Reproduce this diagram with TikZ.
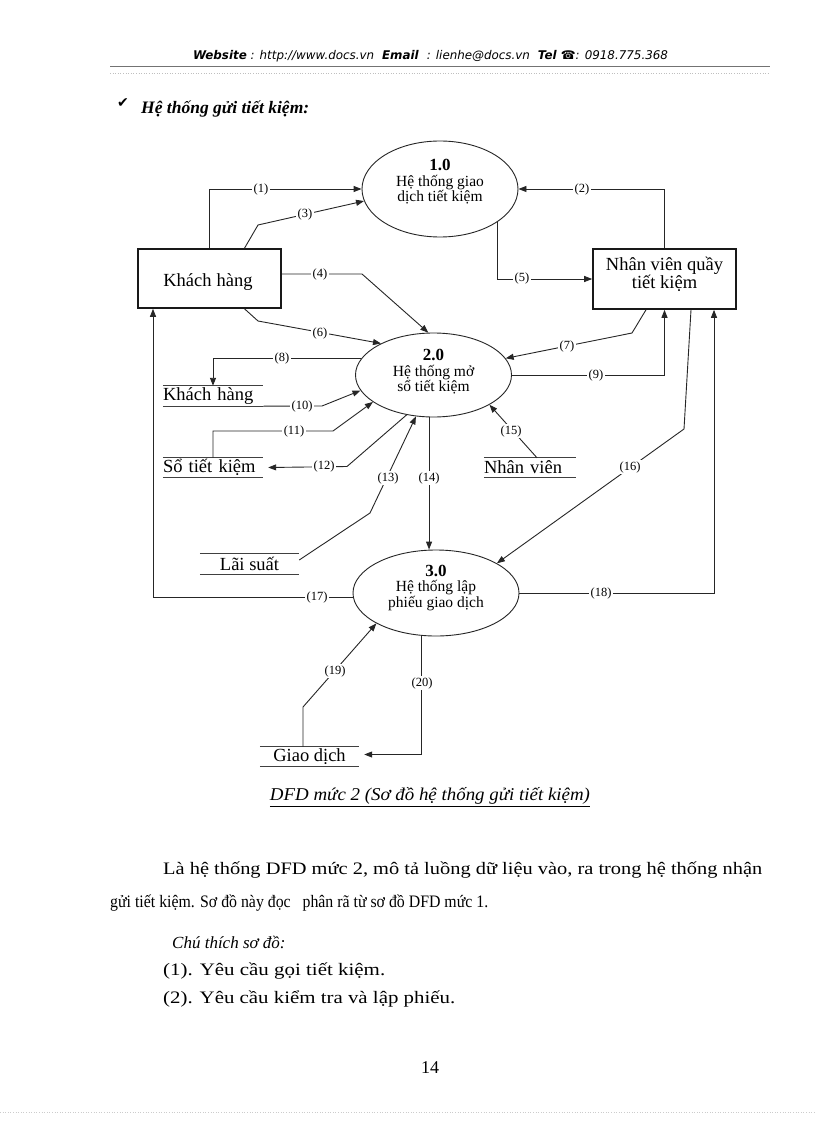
\documentclass[tikz,border=0pt]{standalone}
\usepackage{fontspec}
\setmainfont{Liberation Serif}
\newfontfamily\hdrfont{DejaVu Sans}
\newfontfamily\symfont{DejaVu Sans}
\usetikzlibrary{arrows.meta,calc,shapes.geometric}
\begin{document}
\begin{tikzpicture}[x=1pt,y=-1pt,
  flow/.style={line width=0.9pt, draw=black!85},
  arr/.style={flow,-{Triangle[length=8pt,width=6pt]}},
  lbl/.style={fill=white, inner sep=1.5pt, font=\fontsize{12.5}{13}\selectfont},
  proc/.style={ellipse, draw=black!85, line width=0.9pt, inner sep=0pt},
  ent/.style={draw=black!90, line width=1.6pt, inner sep=0pt},
  storetxt/.style={inner sep=0pt, font=\fontsize{18.5}{19}\selectfont},
  storeline/.style={line width=1.3pt, draw=black!75},
  ptxt/.style={align=center, inner sep=0pt, font=\fontsize{15.5}{15.5}\selectfont},
  btxt/.style={align=center, inner sep=0pt, font=\fontsize{18.5}{17.5}\selectfont},
  body/.style={inner sep=0pt, anchor=west, font=\fontsize{17.5}{18}\selectfont},
]
\useasboundingbox (0,0) rectangle (816,1123);
\fill[white] (0,0) rectangle (816,1123);

% header
\node[inner sep=0pt] (hdr) at (430.5,56) {\resizebox{475pt}{\height}{\hdrfont\fontsize{12}{13}\selectfont\textbf{\textit{Website}}\textit{ : http://www.docs.vn }\textbf{\textit{ Email }}\textit{ : lienhe@docs.vn }\textbf{\textit{ Tel }}\textbf{☎}\textit{: 0918.775.368}}};
\draw[black!55, line width=0.8pt] (110,66) -- (770,66);
\draw[black!25, line width=0.6pt, dotted] (110,73) -- (770,73);

% title
\node[inner sep=0pt] (chk) at (123,103) {\symfont\fontsize{14}{14}\selectfont ✔};
\node[inner sep=0pt, anchor=west] (ttl) at (141,109) {\fontsize{17.5}{19}\selectfont\bfseries\itshape Hệ thống gửi tiết kiệm:};

% processes
\node[proc, minimum width=156pt, minimum height=96pt] (e1) at (440,189) {};
\node[proc, minimum width=156pt, minimum height=84pt] (e2) at (433.5,375) {};
\node[proc, minimum width=166pt, minimum height=86pt] (e3) at (436,593) {};
\node[ptxt] (e1t) at (440,182) {\textbf{\fontsize{17}{15.5}\selectfont 1.0}\\Hệ thống giao\\dịch tiết kiệm};
\node[ptxt] (e2t) at (433.5,372) {\textbf{\fontsize{17}{15.5}\selectfont 2.0}\\Hệ thống mở\\sổ tiết kiệm};
\node[ptxt] (e3t) at (436,588) {\textbf{\fontsize{17}{15.5}\selectfont 3.0}\\Hệ thống lập\\phiếu giao dịch};

% entities
\node[ent, minimum width=143pt, minimum height=59pt] (kh) at (209.5,278.5) {};
\node[btxt] (kht) at (208,282) {Khách\hspace{5pt}hàng};
\node[ent, minimum width=143pt, minimum height=60pt] (nv) at (664.5,279) {};
\node[btxt] (nvt) at (664.5,274.5) {Nhân viên quầy\\tiết kiệm};

% data stores
\node[storetxt, text width=100pt, align=left, minimum height=20pt] (ks) at (213,396) {Khách hàng};
\node[storetxt, text width=100pt, align=left, minimum height=19pt] (st) at (213,467.5) {Sổ tiết kiệm};
\node[storetxt, text width=92pt, align=left, minimum height=19pt] (nvs) at (530,467.5) {Nhân viên};
\node[storetxt, minimum width=99pt, minimum height=20pt] (ls) at (249.5,564) {Lãi suất};
\node[storetxt, minimum width=99pt, minimum height=19pt] (gd) at (309.5,756.5) {Giao dịch};
\foreach \s in {ks,st,nvs,ls,gd}{
  \draw[storeline] (\s.north west) -- (\s.north east);
  \draw[storeline] (\s.south west) -- (\s.south east);
}

% flows
\draw[arr] (kh.north) |- (e1.west);
\draw[arr] ([xshift=35pt]kh.north) -- (258,225) -- (e1.189);
\draw[arr] (nv.north) |- (e1.east);
\draw[arr] (e1.330) |- (nv.west);
\draw[arr] ([yshift=4.5pt]kh.east) -- (362,274) -- (e2.97);
\draw[arr] ([xshift=35pt]kh.south) -- (258,321) -- (e2.149);
\draw[arr] ([xshift=-18.5pt]nv.south) -- (632,333) -- (e2.13);
\draw[arr] (e2.167) -| (ks.north);
\draw[arr] (e2.east) -| (nv.south);
\draw[arr] (ks.south east) -- (322,406) -- (e2.192);
\draw[arr] (st.north) |- (333,431) -- (e2.204);
\draw[arr] (e2.236) -- (347,466.5) -- ([xshift=5pt]st.east);
\draw[arr] ([yshift=4pt]ls.east) -- (370,513) -- (e2.247);
\draw[arr] (e2.264) -- (e2.264 |- e3.north);
\draw[arr] ([xshift=7pt]nvs.north) -- (e2.332);
\draw[arr] ([xshift=26.5pt]nv.south) -- (684,429) -- (e3.26);
\draw[arr] (e3.183) -| ([xshift=-56.5pt]kh.south);
\draw[arr] (e3.east) -| ([xshift=49.5pt]nv.south);
\draw[arr] ([xshift=-6.5pt]gd.north) -- (303,707) -- (e3.207);
\draw[arr] (e3.251) |- ($(gd.east)+(5,-2)$);

% flow labels
\node[lbl] (l1) at (261,189) {(1)};
\node[lbl] (l2) at (582,189) {(2)};
\node[lbl] (l3) at (305,214) {(3)};
\node[lbl] (l4) at (320,274) {(4)};
\node[lbl] (l5) at (522,278) {(5)};
\node[lbl] (l6) at (320,333) {(6)};
\node[lbl] (l7) at (567,346) {(7)};
\node[lbl] (l8) at (282,358) {(8)};
\node[lbl] (l9) at (596,375) {(9)};
\node[lbl] (l10) at (302,406) {(10)};
\node[lbl] (l11) at (294,431) {(11)};
\node[lbl] (l12) at (324,466.5) {(12)};
\node[lbl] (l13) at (388,478) {(13)};
\node[lbl] (l14) at (429,478) {(14)};
\node[lbl] (l15) at (511,431) {(15)};
\node[lbl] (l16) at (630,467) {(16)};
\node[lbl] (l17) at (317,597) {(17)};
\node[lbl] (l18) at (601,593) {(18)};
\node[lbl] (l19) at (335,671) {(19)};
\node[lbl] (l20) at (422,683) {(20)};

% caption
\node[inner sep=0pt] (cap) at (430,797) {\resizebox{320pt}{\height}{\fontsize{18}{18}\selectfont\itshape\underline{DFD mức 2 (Sơ đồ hệ thống gửi tiết kiệm)}}};

% body text
\node[body] (p1) at (163,870) {\resizebox{599pt}{\height}{Là hệ thống DFD mức 2, mô tả luồng dữ liệu vào, ra trong hệ thống nhận}};
\node[body, font=\fontsize{17.5}{18}\selectfont] (p2) at (110,903) {\resizebox{378pt}{\height}{gửi tiết kiệm. Sơ đồ này đọc\ \ \ phân rã từ sơ đồ DFD mức 1.}};
\node[body, font=\fontsize{17}{18}\selectfont] (p3) at (172,942) {\itshape Chú thích sơ đồ:};
\node[body] (p4) at (163,971) {\resizebox{222pt}{\height}{(1). Yêu cầu gọi tiết kiệm.}};
\node[body] (p5) at (163,999) {\resizebox{292pt}{\height}{(2). Yêu cầu kiểm tra và lập phiếu.}};
\node[inner sep=0pt, font=\fontsize{18}{18}\selectfont] (pg) at (430,1068) {14};
\draw[black!20, line width=0.6pt, dotted] (0,1112) -- (816,1112);
\end{tikzpicture}
\end{document}
